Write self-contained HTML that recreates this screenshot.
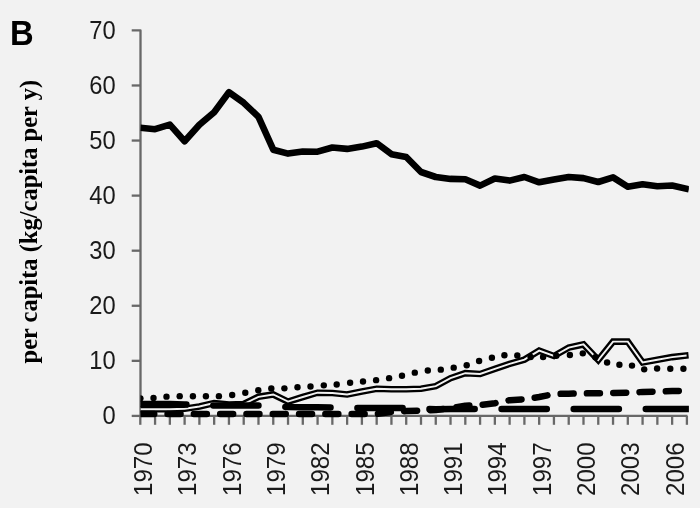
<!DOCTYPE html>
<html><head><meta charset="utf-8"><style>
html,body{margin:0;padding:0;background:#f2f2f2;}
svg{display:block;will-change:transform;}
</style></head><body>
<svg width="700" height="508" viewBox="0 0 700 508">
<rect width="700" height="508" fill="#f2f2f2"/>
<defs><clipPath id="pc"><rect x="140.5" y="0" width="548.4" height="430"/></clipPath></defs>
<text transform="translate(10.0,45.1) scale(0.91,1)" font-family="Liberation Sans" font-weight="bold" font-size="36" fill="#000">B</text>
<g stroke="#686868" stroke-width="2.3" fill="none" stroke-linejoin="round">
<polyline points="131.7,30.41 140.5,30.41 140.5,415.9"/>
<line x1="140.5" y1="415.9" x2="687.5" y2="415.9"/>
<line x1="131.7" y1="415.90" x2="140.5" y2="415.90"/><line x1="131.7" y1="360.83" x2="140.5" y2="360.83"/><line x1="131.7" y1="305.76" x2="140.5" y2="305.76"/><line x1="131.7" y1="250.69" x2="140.5" y2="250.69"/><line x1="131.7" y1="195.62" x2="140.5" y2="195.62"/><line x1="131.7" y1="140.55" x2="140.5" y2="140.55"/><line x1="131.7" y1="85.48" x2="140.5" y2="85.48"/>
<line x1="140.30" y1="415.9" x2="140.30" y2="424.8"/><line x1="155.07" y1="415.9" x2="155.07" y2="424.8"/><line x1="169.85" y1="415.9" x2="169.85" y2="424.8"/><line x1="184.62" y1="415.9" x2="184.62" y2="424.8"/><line x1="199.39" y1="415.9" x2="199.39" y2="424.8"/><line x1="214.17" y1="415.9" x2="214.17" y2="424.8"/><line x1="228.94" y1="415.9" x2="228.94" y2="424.8"/><line x1="243.71" y1="415.9" x2="243.71" y2="424.8"/><line x1="258.48" y1="415.9" x2="258.48" y2="424.8"/><line x1="273.26" y1="415.9" x2="273.26" y2="424.8"/><line x1="288.03" y1="415.9" x2="288.03" y2="424.8"/><line x1="302.80" y1="415.9" x2="302.80" y2="424.8"/><line x1="317.58" y1="415.9" x2="317.58" y2="424.8"/><line x1="332.35" y1="415.9" x2="332.35" y2="424.8"/><line x1="347.12" y1="415.9" x2="347.12" y2="424.8"/><line x1="361.89" y1="415.9" x2="361.89" y2="424.8"/><line x1="376.67" y1="415.9" x2="376.67" y2="424.8"/><line x1="391.44" y1="415.9" x2="391.44" y2="424.8"/><line x1="406.21" y1="415.9" x2="406.21" y2="424.8"/><line x1="420.99" y1="415.9" x2="420.99" y2="424.8"/><line x1="435.76" y1="415.9" x2="435.76" y2="424.8"/><line x1="450.53" y1="415.9" x2="450.53" y2="424.8"/><line x1="465.31" y1="415.9" x2="465.31" y2="424.8"/><line x1="480.08" y1="415.9" x2="480.08" y2="424.8"/><line x1="494.85" y1="415.9" x2="494.85" y2="424.8"/><line x1="509.62" y1="415.9" x2="509.62" y2="424.8"/><line x1="524.40" y1="415.9" x2="524.40" y2="424.8"/><line x1="539.17" y1="415.9" x2="539.17" y2="424.8"/><line x1="553.94" y1="415.9" x2="553.94" y2="424.8"/><line x1="568.72" y1="415.9" x2="568.72" y2="424.8"/><line x1="583.49" y1="415.9" x2="583.49" y2="424.8"/><line x1="598.26" y1="415.9" x2="598.26" y2="424.8"/><line x1="613.04" y1="415.9" x2="613.04" y2="424.8"/><line x1="627.81" y1="415.9" x2="627.81" y2="424.8"/><line x1="642.58" y1="415.9" x2="642.58" y2="424.8"/><line x1="657.36" y1="415.9" x2="657.36" y2="424.8"/><line x1="672.13" y1="415.9" x2="672.13" y2="424.8"/><line x1="686.90" y1="415.9" x2="686.90" y2="424.8"/>
</g>
<g font-family="Liberation Sans" font-size="25" fill="#1a1a1a" text-anchor="end">
<text transform="translate(115.7,424.30) scale(0.95,1)">0</text><text transform="translate(115.7,369.23) scale(0.95,1)">10</text><text transform="translate(115.7,314.16) scale(0.95,1)">20</text><text transform="translate(115.7,259.09) scale(0.95,1)">30</text><text transform="translate(115.7,204.02) scale(0.95,1)">40</text><text transform="translate(115.7,148.95) scale(0.95,1)">50</text><text transform="translate(115.7,93.88) scale(0.95,1)">60</text><text transform="translate(115.7,38.81) scale(0.95,1)">70</text>
</g>
<g font-family="Liberation Sans" font-size="25" fill="#1a1a1a" text-anchor="start">
<text transform="translate(151.90,496) rotate(-90) scale(0.965,1)">1970</text><text transform="translate(196.22,496) rotate(-90) scale(0.965,1)">1973</text><text transform="translate(240.54,496) rotate(-90) scale(0.965,1)">1976</text><text transform="translate(284.86,496) rotate(-90) scale(0.965,1)">1979</text><text transform="translate(329.18,496) rotate(-90) scale(0.965,1)">1982</text><text transform="translate(373.50,496) rotate(-90) scale(0.965,1)">1985</text><text transform="translate(417.81,496) rotate(-90) scale(0.965,1)">1988</text><text transform="translate(462.13,496) rotate(-90) scale(0.965,1)">1991</text><text transform="translate(506.45,496) rotate(-90) scale(0.965,1)">1994</text><text transform="translate(550.77,496) rotate(-90) scale(0.965,1)">1997</text><text transform="translate(595.09,496) rotate(-90) scale(0.965,1)">2000</text><text transform="translate(639.41,496) rotate(-90) scale(0.965,1)">2003</text><text transform="translate(683.73,496) rotate(-90) scale(0.965,1)">2006</text>
</g>
<text transform="translate(36.5,221.7) rotate(-90)" text-anchor="middle" font-family="Liberation Serif" font-weight="bold" font-size="24.5" fill="#000">per capita (kg/capita per y)</text>
<g clip-path="url(#pc)" fill="none" stroke-linejoin="round">
<polyline points="140.30,409.30 155.07,409.30 169.85,409.20 184.62,408.80 199.39,406.50 214.17,403.00 228.94,404.50 243.71,404.00 258.48,396.80 273.26,394.50 288.03,401.60 302.80,397.00 317.58,392.70 332.35,393.00 347.12,394.50 361.89,391.50 376.67,388.80 391.44,389.20 406.21,389.20 420.99,388.70 435.76,386.20 450.53,378.20 465.31,373.20 480.08,374.00 494.85,368.80 509.62,363.80 524.40,359.60 539.17,350.60 553.94,356.00 568.72,347.60 583.49,344.40 598.26,360.00 613.04,341.60 627.81,341.60 642.58,362.40 657.36,359.80 672.13,357.10 688.60,355.32" stroke="#000" stroke-width="6.6" stroke-linejoin="miter"/>
<polyline points="140.30,409.30 155.07,409.30 169.85,409.20 184.62,408.80 199.39,406.50 214.17,403.00 228.94,404.50 243.71,404.00 258.48,396.80 273.26,394.50 288.03,401.60 302.80,397.00 317.58,392.70 332.35,393.00 347.12,394.50 361.89,391.50 376.67,388.80 391.44,389.20 406.21,389.20 420.99,388.70 435.76,386.20 450.53,378.20 465.31,373.20 480.08,374.00 494.85,368.80 509.62,363.80 524.40,359.60 539.17,350.60 553.94,356.00 568.72,347.60 583.49,344.40 598.26,360.00 613.04,341.60 627.81,341.60 642.58,362.40 657.36,359.80 672.13,357.10 686.60,355.53" stroke="#f2f2f2" stroke-width="1.9" stroke-linejoin="miter"/>
<g fill="#000" stroke="none"><circle cx="140.40" cy="398.35" r="3.20"/><circle cx="153.50" cy="398.03" r="3.20"/><circle cx="166.50" cy="396.67" r="3.20"/><circle cx="179.70" cy="396.15" r="3.20"/><circle cx="192.90" cy="396.26" r="3.20"/><circle cx="205.90" cy="396.30" r="3.20"/><circle cx="218.90" cy="396.16" r="3.20"/><circle cx="232.20" cy="395.01" r="3.20"/><circle cx="245.30" cy="392.75" r="3.20"/><circle cx="258.30" cy="390.22" r="3.20"/><circle cx="271.30" cy="388.43" r="3.20"/><circle cx="284.40" cy="388.36" r="3.20"/><circle cx="297.50" cy="387.32" r="3.20"/><circle cx="310.50" cy="386.44" r="3.20"/><circle cx="323.80" cy="385.36" r="3.20"/><circle cx="336.70" cy="384.52" r="3.20"/><circle cx="350.10" cy="382.71" r="3.20"/><circle cx="363.00" cy="381.54" r="3.20"/><circle cx="376.10" cy="380.13" r="3.20"/><circle cx="389.10" cy="378.13" r="3.20"/><circle cx="402.00" cy="375.78" r="3.20"/><circle cx="414.80" cy="372.64" r="3.20"/><circle cx="427.80" cy="370.48" r="3.20"/><circle cx="440.80" cy="369.66" r="3.20"/><circle cx="453.70" cy="367.66" r="3.20"/><circle cx="466.70" cy="365.27" r="3.20"/><circle cx="479.10" cy="360.96" r="3.20"/><circle cx="491.90" cy="357.82" r="3.20"/><circle cx="504.40" cy="355.18" r="3.20"/><circle cx="517.30" cy="355.54" r="3.20"/><circle cx="530.60" cy="357.00" r="3.20"/><circle cx="543.10" cy="357.04" r="3.20"/><circle cx="556.30" cy="355.77" r="3.20"/><circle cx="569.90" cy="354.93" r="3.20"/><circle cx="582.80" cy="353.34" r="3.20"/><circle cx="595.40" cy="357.20" r="3.20"/><circle cx="607.10" cy="362.55" r="3.20"/><circle cx="619.40" cy="364.72" r="3.20"/><circle cx="632.00" cy="365.60" r="3.20"/><circle cx="644.20" cy="369.37" r="3.20"/><circle cx="657.10" cy="368.56" r="3.20"/><circle cx="670.30" cy="368.78" r="3.20"/><circle cx="683.40" cy="368.76" r="3.20"/></g>
<polyline points="140.30,413.90 155.07,413.90 169.85,413.90 184.62,413.90 199.39,413.90 214.17,413.90 228.94,413.90 243.71,413.90 258.48,413.90 273.26,413.90 288.03,413.90 302.80,413.90 317.58,413.90 332.35,413.90 347.12,413.90 361.89,413.90 376.67,413.90 391.44,412.00 406.21,411.00 420.99,410.50 435.76,410.00 450.53,408.00 465.31,405.80 480.08,405.00 494.85,403.30 509.62,400.20 524.40,399.20 539.17,397.00 553.94,394.00 568.72,393.70 583.49,393.40 598.26,393.20 613.04,393.00 627.81,392.60 642.58,392.00 657.36,391.60 672.13,391.10 686.90,390.70" stroke="#000" stroke-width="6.5" stroke-linecap="round" stroke-dasharray="13 13.3" stroke-dashoffset="-0.95"/>
<polyline points="140.30,404.00 155.07,404.00 169.85,404.00 184.62,404.50 199.39,405.00 214.17,405.50 228.94,405.50 243.71,405.50 258.48,405.50 273.26,406.30 288.03,407.10 302.80,407.20 317.58,407.30 332.35,407.50 347.12,408.00 361.89,408.00 376.67,408.00 391.44,408.00 406.21,408.00 420.99,409.00 435.76,409.20 450.53,409.00 465.31,409.00 480.08,409.00 494.85,409.00 509.62,409.00 524.40,409.00 539.17,409.00 553.94,409.00 568.72,409.00 583.49,409.00 598.26,409.00 613.04,409.00 627.81,409.00 642.58,409.00 657.36,409.00 672.13,409.00 688.90,409.00" stroke="#000" stroke-width="6.5" stroke-linecap="round" stroke-dasharray="45.2 26.9" stroke-dashoffset="-0.9"/>
<polyline points="140.30,127.70 155.07,129.20 169.85,124.60 184.62,141.20 199.39,124.80 214.17,112.20 228.94,92.20 243.71,102.80 258.48,116.90 273.26,149.70 288.03,153.60 302.80,151.50 317.58,151.70 332.35,147.50 347.12,148.90 361.89,146.60 376.67,143.20 391.44,154.20 406.21,157.00 420.99,172.00 435.76,177.00 450.53,178.90 465.31,179.20 480.08,185.60 494.85,178.50 509.62,180.60 524.40,177.00 539.17,182.30 553.94,179.50 568.72,177.00 583.49,178.10 598.26,182.00 613.04,177.40 627.81,186.70 642.58,184.30 657.36,186.30 672.13,185.50 688.90,189.36" stroke="#000" stroke-width="6.6" stroke-linejoin="round"/>
</g>
</svg>
</body></html>
